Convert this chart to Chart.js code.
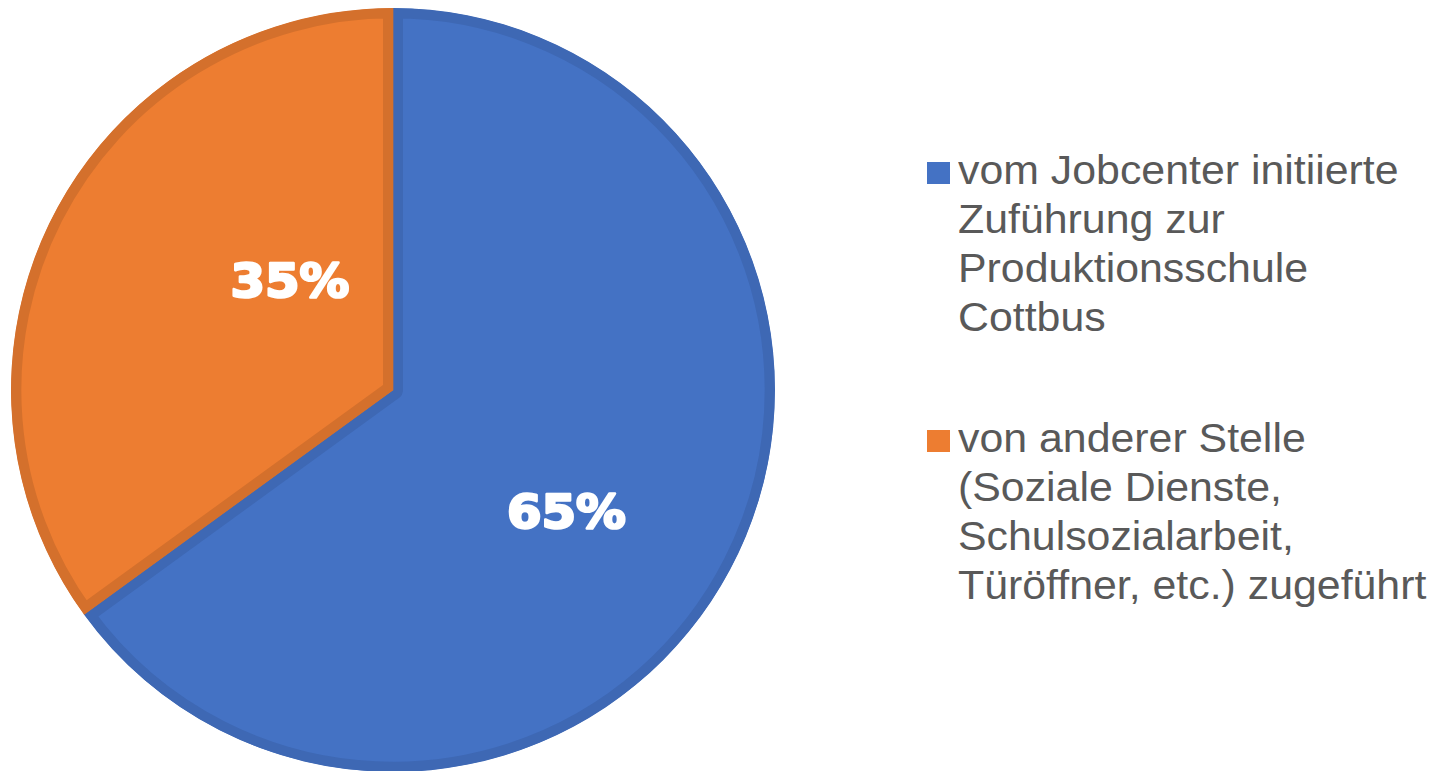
<!DOCTYPE html>
<html>
<head>
<meta charset="utf-8">
<script src="https://cdn.jsdelivr.net/npm/chart.js@4.4.1/dist/chart.umd.min.js"></script>
<style>
  html, body { margin: 0; padding: 0; background: #fff; overflow: hidden; }
  body { width: 1436px; height: 771px; position: relative; }
  #wrap { position: absolute; left: 0; top: 0; width: 786px; height: 780px; }
  .legend { position: absolute; left: 927px; font-family: "Liberation Sans", Arial, sans-serif;
    font-size: 41px; line-height: 49px; color: #595959; }
  .legend .box { position: absolute; left: 0; top: 16px; width: 23px; height: 22px; }
  .legend .txt { margin-left: 31px; white-space: nowrap; transform: scaleX(1.045); transform-origin: left top; }
</style>
</head>
<body>
<div id="wrap"><canvas id="pie"></canvas></div>
<div id="legend"></div>
<script>
const labels = [
  ["vom Jobcenter initiierte", "Zuführung zur", "Produktionsschule", "Cottbus"],
  ["von anderer Stelle", "(Soziale Dienste,", "Schulsozialarbeit,", "Türöffner, etc.) zugeführt"]
];
const values = [65, 35];
const colors = ["#4472C4", "#ED7D31"];
const borderColors = ["#3E68B4", "#D4702C"];
// label positions as fractions of the radius from the centre
const labelOffsets = [[0.454, 0.33], [-0.270, -0.275]];
const legendTops = [146, 414];

const sliceLabels = {
  id: "sliceLabels",
  afterDatasetsDraw(chart) {
    const ctx = chart.ctx;
    const arcs = chart.getDatasetMeta(0).data;
    arcs.forEach((arc, i) => {
      const r = arc.outerRadius;
      ctx.save();
      ctx.translate(arc.x + r * labelOffsets[i][0], arc.y + r * labelOffsets[i][1]);
      ctx.scale(1.08, 1);
      ctx.fillStyle = "#ffffff";
      ctx.strokeStyle = "#ffffff";
      ctx.lineWidth = 2.5;
      ctx.lineJoin = "round";
      ctx.font = "bold 46px 'DejaVu Sans', sans-serif";
      ctx.textAlign = "center";
      ctx.textBaseline = "middle";
      ctx.strokeText(values[i] + "%", 0, 0);
      ctx.fillText(values[i] + "%", 0, 0);
      ctx.restore();
    });
  }
};

new Chart(document.getElementById("pie"), {
  type: "pie",
  data: {
    labels: labels.map(l => l.join(" ")),
    datasets: [{
      data: values,
      backgroundColor: colors,
      borderColor: borderColors,
      borderWidth: 10,
      borderAlign: "inner"
    }]
  },
  options: {
    responsive: true,
    maintainAspectRatio: false,
    animation: false,
    layout: { padding: 8 },
    plugins: { legend: { display: false }, tooltip: { enabled: false } }
  },
  plugins: [sliceLabels]
});

const legend = document.getElementById("legend");
labels.forEach((lines, i) => {
  const item = document.createElement("div");
  item.className = "legend";
  item.style.top = legendTops[i] + "px";
  item.innerHTML = '<div class="box" style="background:' + colors[i] + '"></div><div class="txt">' + lines.join("<br>") + "</div>";
  legend.appendChild(item);
});
</script>
</body>
</html>
